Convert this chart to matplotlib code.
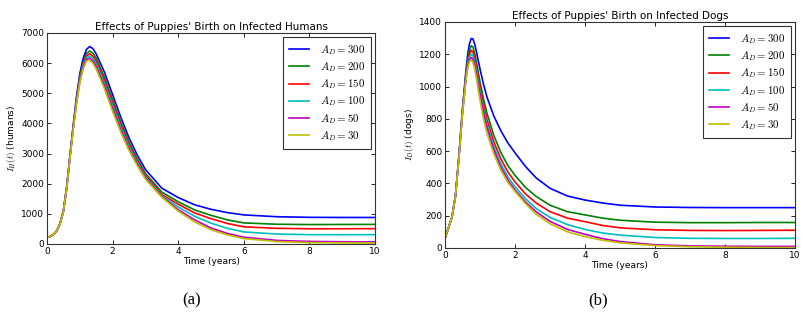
"""Effects of puppies' birth on infected humans and dogs"""

import matplotlib
matplotlib.use("Agg")
import matplotlib.pyplot as plt

plt.rcParams["mathtext.fontset"] = "cm"
plt.rcParams["font.family"] = "DejaVu Sans"

# Birth rate labels and colors (classic matplotlib cycle)
labels = ["$A_D = 300$", "$A_D = 200$", "$A_D = 150$", "$A_D = 100$", "$A_D = 50$", "$A_D = 30$"]
colors = ["b", "g", "r", "c", "m", "y"]

# Infected humans
t_h = [0, 0.1, 0.2, 0.3, 0.4, 0.5, 0.6, 0.7, 0.8, 0.9, 1.0, 1.1, 1.2, 1.3, 1.4, 1.5,
       1.75, 2.0, 2.25, 2.5, 2.75, 3.0, 3.5, 4.0, 4.5, 5.0, 5.5, 6.0, 7.0, 8.0, 9.0, 10.0]
h_300 = [220, 250, 320, 440, 690, 1120, 1900, 2950, 3950, 4900, 5650, 6150, 6450, 6550, 6480, 6300,
         5700, 4950, 4200, 3520, 2950, 2470, 1850, 1540, 1300, 1150, 1040, 965, 905, 885, 880, 880]
h_200 = [220, 250, 320, 440, 685, 1105, 1880, 2920, 3900, 4800, 5550, 6020, 6320, 6400, 6330, 6160,
         5530, 4780, 4040, 3380, 2820, 2340, 1720, 1400, 1130, 950, 800, 700, 655, 645, 648, 650]
h_150 = [220, 250, 320, 440, 683, 1100, 1870, 2900, 3880, 4770, 5500, 5960, 6240, 6310, 6230, 6060,
         5420, 4680, 3950, 3300, 2750, 2280, 1640, 1320, 1030, 840, 680, 570, 520, 505, 505, 510]
h_100 = [220, 250, 320, 440, 682, 1095, 1860, 2880, 3860, 4730, 5450, 5910, 6180, 6230, 6150, 5970,
         5330, 4590, 3870, 3230, 2700, 2230, 1600, 1230, 920, 690, 520, 400, 330, 310, 308, 310]
h_50 = [220, 250, 320, 440, 681, 1092, 1850, 2870, 3840, 4690, 5400, 5850, 6120, 6160, 6070, 5880,
        5240, 4500, 3780, 3160, 2650, 2190, 1570, 1140, 800, 530, 350, 225, 120, 85, 75, 70]
h_30 = [220, 250, 320, 440, 680, 1090, 1840, 2850, 3800, 4650, 5350, 5800, 6070, 6100, 5990, 5800,
        5150, 4400, 3700, 3100, 2600, 2150, 1550, 1090, 730, 470, 300, 180, 80, 45, 35, 30]

# Infected dogs
t_d = [0, 0.1, 0.2, 0.3, 0.4, 0.5, 0.6, 0.65, 0.7, 0.75, 0.8, 0.85, 0.9, 1.0, 1.1, 1.2,
       1.4, 1.6, 1.8, 2.0, 2.3, 2.6, 3.0, 3.5, 4.0, 4.5, 5.0, 6.0, 7.0, 8.0, 9.0, 10.0]
d_300 = [60, 125, 192, 325, 575, 860, 1100, 1200, 1265, 1298, 1295, 1262, 1215, 1110, 1015, 935,
         815, 725, 650, 590, 505, 435, 370, 322, 297, 279, 265, 254, 251, 250, 250, 250]
d_200 = [60, 125, 191, 323, 570, 850, 1080, 1170, 1225, 1253, 1245, 1205, 1150, 1030, 925, 835,
         695, 590, 510, 450, 375, 320, 265, 225, 205, 185, 172, 160, 157, 157, 158, 158]
d_150 = [60, 125, 191, 322, 568, 845, 1070, 1150, 1200, 1225, 1215, 1175, 1120, 1000, 890, 795,
         655, 550, 470, 410, 335, 280, 225, 185, 163, 140, 125, 113, 109, 108, 109, 110]
d_100 = [60, 125, 190, 321, 565, 840, 1060, 1140, 1182, 1200, 1190, 1150, 1095, 975, 860, 765,
         625, 520, 440, 380, 305, 245, 190, 145, 115, 93, 80, 65, 60, 59, 59, 60]
d_50 = [60, 125, 190, 320, 563, 835, 1050, 1125, 1165, 1180, 1170, 1130, 1075, 955, 840, 745,
        605, 500, 420, 360, 285, 225, 165, 115, 85, 58, 40, 20, 13, 11, 10, 10]
d_30 = [60, 125, 190, 320, 560, 830, 1040, 1115, 1155, 1165, 1150, 1110, 1050, 915, 800, 710,
        580, 480, 405, 350, 275, 210, 150, 100, 70, 48, 32, 15, 8, 5, 3, 2]

humans = [h_300, h_200, h_150, h_100, h_50, h_30]
dogs = [d_300, d_200, d_150, d_100, d_50, d_30]

fig = plt.figure(figsize=(8.08, 3.15), dpi=100)
ax1 = fig.add_axes([0.0582, 0.2254, 0.406, 0.670])
ax2 = fig.add_axes([0.5507, 0.2127, 0.4332, 0.7175])


def style_axes(ax):
    ax.tick_params(direction="in", top=True, right=True, labelsize=6.5, length=3, width=0.6, pad=2)
    for s in ax.spines.values():
        s.set_linewidth(0.8)
        s.set_color("#333333")
    ax.set_xlim(0, 10)
    ax.set_xticks([0, 2, 4, 6, 8, 10])


def add_legend(ax):
    leg = ax.legend(loc="upper right", fontsize=7.8, fancybox=False, framealpha=1,
                    edgecolor="#333333", handlelength=1.9, handletextpad=1.0,
                    labelspacing=0.32, borderpad=0.5, borderaxespad=0.4)
    leg.get_frame().set_linewidth(0.8)


for y, c, lab in zip(humans, colors, labels):
    ax1.plot(t_h, y, color=c, lw=1.2, label=lab)
style_axes(ax1)
ax1.set_ylim(0, 7000)
ax1.set_yticks(range(0, 7001, 1000))
ax1.set_title("Effects of Puppies' Birth on Infected Humans", fontsize=7.5, pad=2)
ax1.set_xlabel("Time (years)", fontsize=6.5, labelpad=1)
ax1.set_ylabel("$I_H(t)$ (humans)", fontsize=6.5, labelpad=2)
add_legend(ax1)

for y, c, lab in zip(dogs, colors, labels):
    ax2.plot(t_d, y, color=c, lw=1.2, label=lab)
style_axes(ax2)
ax2.set_ylim(0, 1400)
ax2.set_yticks(range(0, 1401, 200))
ax2.set_title("Effects of Puppies' Birth on Infected Dogs", fontsize=7.5, pad=2)
ax2.set_xlabel("Time (years)", fontsize=6.5, labelpad=1)
ax2.set_ylabel("$I_D(t)$ (dogs)", fontsize=6.5, labelpad=2)
add_legend(ax2)

fig.text(192 / 808, 1 - 300 / 315, "(a)", family="Liberation Serif", fontsize=12,
         ha="center", va="center")
fig.text(598 / 808, 1 - 300 / 315, "(b)", family="Liberation Serif", fontsize=12,
         ha="center", va="center")

fig.savefig("out.png", dpi=100)
